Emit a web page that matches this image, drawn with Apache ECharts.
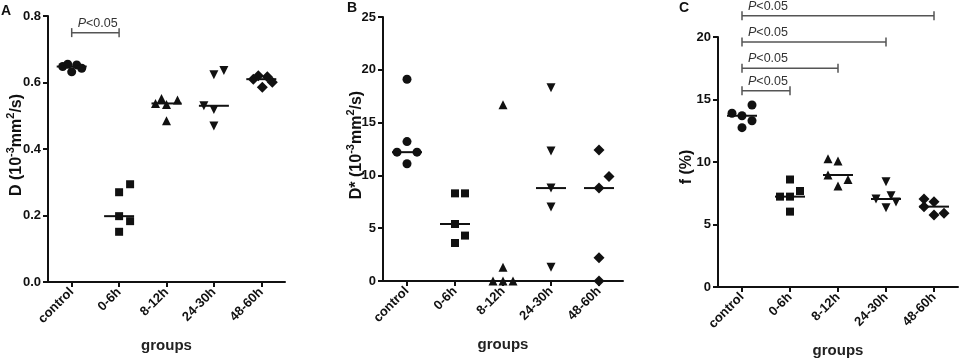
<!DOCTYPE html>
<html>
<head>
<meta charset="utf-8">
<script src="https://cdn.jsdelivr.net/npm/echarts@6/dist/echarts.min.js"></script>
<style>
  html, body { margin: 0; padding: 0; background: #fff; }
  #chart { width: 964px; height: 360px; }
</style>
</head>
<body>
<div id="chart"></div>
<script>
// groups on the x axis
const groups = ["control", "0-6h", "8-12h", "24-30h", "48-60h"];

// panel A: D (10^-3 mm2/s), 5 animals per group
const valuesA = [
  [0.648, 0.655, 0.632, 0.653, 0.643],
  [0.270, 0.294, 0.198, 0.183, 0.151],
  [0.537, 0.552, 0.534, 0.547, 0.485],
  [0.623, 0.636, 0.530, 0.519, 0.469],
  [0.610, 0.620, 0.617, 0.601, 0.586],
];
// panel B: D* (10^-3 mm2/s)
const valuesB = [
  [19.1, 13.2, 12.2, 12.2, 11.1],
  [8.3, 8.3, 5.4, 4.3, 3.6],
  [16.7, 1.3, 0, 0, 0],
  [18.3, 12.3, 8.8, 7.0, 1.3],
  [12.4, 9.9, 8.8, 2.2, 0],
];
// panel C: f (%)
const valuesC = [
  [13.9, 13.7, 14.56, 12.75, 13.3],
  [7.23, 7.23, 7.68, 8.6, 6.03],
  [10.27, 10.08, 8.96, 8.6, 8.08],
  [8.43, 7.04, 7.3, 6.8, 6.35],
  [7.04, 6.83, 6.43, 5.76, 5.9],
];

// y axis ticks
const ticksA = { min: 0, max: 0.8, interval: 0.2 };
const ticksB = { min: 0, max: 25, interval: 5 };
const ticksC = { min: 0, max: 20, interval: 5 };

// significance brackets: [from group, to group, y value]
const bracketsA = [[0, 1, 0.75]];
const bracketsC = [[0, 1, 15.7], [0, 2, 17.5], [0, 3, 19.6], [0, 4, 21.7]];
const pLabel = "P<0.05";

// horizontal spread of overlapping dots (px), like the dot plot does
const spreadA = [[-9, -4, 0, 5, 10], [0, 11, 0, 11, 0], [-11, -5, 0, 11, 0], [0, 10, -10, 0, 0], [-8, -3, 6, 11, 1]];
const spreadB = [[0, 0, -10, 10, 0], [0, 10, 0, 10, 0], [0, 0, -10, 0, 10], [0, 0, 0, 0, 0], [0, 10, 0, 0, 0]];
const spreadC = [[-10, 0, 10, 0, 10], [-10, 0, 10, 0, 0], [-10, 0, -10, 10, 0], [0, -10, 5, 10, 0], [-10, 0, -10, 0, 10]];

// marker per group
const marks = [
  { symbol: "circle", size: 9, rotate: 0 },
  { symbol: "rect", size: 8, rotate: 0 },
  { symbol: "triangle", size: 9, rotate: 0 },
  { symbol: "triangle", size: 9, rotate: 180 },
  { symbol: "diamond", size: 11, rotate: 0 },
];

const FONT = '"Liberation Sans", Arial, sans-serif';
const INK = "#111";

function median(arr) {
  const s = arr.slice().sort((a, b) => a - b);
  return s[Math.floor(s.length / 2)];
}

function makeX(gridIndex) {
  return {
    type: "category",
    gridIndex,
    data: groups,
    name: "groups",
    nameLocation: "middle",
    nameGap: 56,
    nameTextStyle: { fontFamily: FONT, fontSize: 15, fontWeight: "bold", color: "#222" },
    axisLine: { show: true, lineStyle: { color: INK, width: 2 } },
    axisTick: { show: true, alignWithLabel: true, length: 5, lineStyle: { color: INK, width: 2 } },
    axisLabel: { rotate: 45, margin: 8, fontFamily: FONT, fontSize: 13, fontWeight: "bold", color: INK },
    splitLine: { show: false },
  };
}

function makeY(gridIndex, t, digits) {
  return {
    type: "value",
    gridIndex,
    min: t.min,
    max: t.max,
    interval: t.interval,
    axisLine: { show: true, lineStyle: { color: INK, width: 2 } },
    axisTick: { show: true, length: 5, lineStyle: { color: INK, width: 2 } },
    axisLabel: {
      margin: 7,
      fontFamily: FONT,
      fontSize: 13,
      fontWeight: "bold",
      color: INK,
      formatter: (v) => v.toFixed(digits),
    },
    splitLine: { show: false },
  };
}

function dotSeries(idx, values, spread) {
  const data = [];
  values.forEach((grp, g) => {
    grp.forEach((v, k) => {
      data.push({
        value: [g, v],
        symbol: marks[g].symbol,
        symbolSize: marks[g].size,
        symbolRotate: marks[g].rotate,
        symbolOffset: [spread[g][k], 0],
      });
    });
  });
  return {
    type: "scatter",
    xAxisIndex: idx,
    yAxisIndex: idx,
    data,
    itemStyle: { color: INK, opacity: 1 },
    z: 3,
  };
}

function medianSeries(idx, values) {
  return {
    type: "scatter",
    xAxisIndex: idx,
    yAxisIndex: idx,
    symbol: "rect",
    symbolSize: [30, 2],
    itemStyle: { color: INK, opacity: 1 },
    data: values.map((grp, g) => [g, median(grp)]),
    z: 4,
  };
}

function bracketSeries(idx, brackets) {
  return {
    type: "custom",
    xAxisIndex: idx,
    yAxisIndex: idx,
    clip: false,
    data: brackets,
    encode: { x: [0, 1], y: 2 },
    renderItem: (params, api) => {
      const p1 = api.coord([api.value(0), api.value(2)]);
      const p2 = api.coord([api.value(1), api.value(2)]);
      const stroke = { stroke: "#555", lineWidth: 1.5 };
      return {
        type: "group",
        children: [
          { type: "line", shape: { x1: p1[0], y1: p1[1], x2: p2[0], y2: p2[1] }, style: stroke },
          { type: "line", shape: { x1: p1[0], y1: p1[1] - 4.5, x2: p1[0], y2: p1[1] + 4.5 }, style: stroke },
          { type: "line", shape: { x1: p2[0], y1: p2[1] - 4.5, x2: p2[0], y2: p2[1] + 4.5 }, style: stroke },
          {
            type: "text",
            style: {
              x: p1[0] + 6,
              y: p1[1] - 3,
              text: "{i|P}{n|" + pLabel.slice(1) + "}",
              textAlign: "left",
              textVerticalAlign: "bottom",
              rich: {
                i: { fontFamily: FONT, fontSize: 12.5, fontStyle: "italic", fill: "#333" },
                n: { fontFamily: FONT, fontSize: 12.5, fill: "#333" },
              },
            },
          },
        ],
      };
    },
    z: 5,
  };
}

// rotated y title with raised exponents
function titleText(x, y, parts) {
  return {
    type: "text",
    x,
    y,
    rotation: Math.PI / 2,
    style: {
      text: parts,
      textAlign: "center",
      textVerticalAlign: "middle",
      rich: {
        b: { font: "bold 16px " + FONT, fill: INK, lineHeight: 20, verticalAlign: "bottom" },
        s: { font: "bold 11px " + FONT, fill: INK, lineHeight: 20, verticalAlign: "top" },
      },
    },
  };
}

function letter(x, y, text) {
  return {
    type: "text",
    x,
    y,
    style: { text, font: "bold 14px " + FONT, fill: INK, textAlign: "left", textVerticalAlign: "top" },
  };
}

const chart = echarts.init(document.getElementById("chart"), null, { renderer: "canvas" });

chart.setOption({
  animation: false,
  backgroundColor: "#fff",
  grid: [
    { left: 48, top: 16, width: 237, height: 266, outerBoundsMode: "none" },
    { left: 383, top: 17, width: 240, height: 264, outerBoundsMode: "none" },
    { left: 718, top: 37, width: 240, height: 250, outerBoundsMode: "none" },
  ],
  xAxis: [makeX(0), makeX(1), makeX(2)],
  yAxis: [makeY(0, ticksA, 1), makeY(1, ticksB, 0), makeY(2, ticksC, 0)],
  graphic: [
    letter(1, 4, "A"),
    letter(347, 1, "B"),
    letter(679, 1, "C"),
    titleText(15, 145, "{b|D (10}{s|-3}{b|mm}{s|2}{b|/s)}"),
    titleText(355, 145, "{b|D* (10}{s|-3}{b|mm}{s|2}{b|/s)}"),
    titleText(685, 167, "{b|f (%)}"),
  ],
  series: [
    dotSeries(0, valuesA, spreadA),
    medianSeries(0, valuesA),
    bracketSeries(0, bracketsA),
    dotSeries(1, valuesB, spreadB),
    medianSeries(1, valuesB),
    dotSeries(2, valuesC, spreadC),
    medianSeries(2, valuesC),
    bracketSeries(2, bracketsC),
  ],
});
</script>
</body>
</html>
